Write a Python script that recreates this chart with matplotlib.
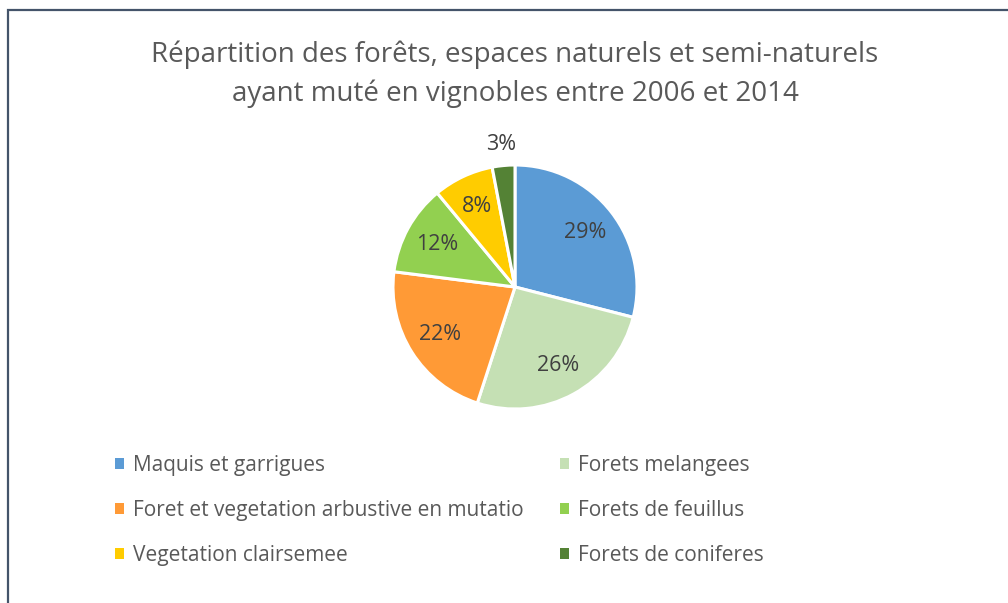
import matplotlib.pyplot as plt
from matplotlib.patches import Rectangle, Patch

# data
labels = ['Maquis et garrigues', 'Forets melangees',
          'Foret et vegetation arbustive en mutatio', 'Forets de feuillus',
          'Vegetation clairsemee', 'Forets de coniferes']
values = [29, 26, 22, 12, 8, 3]
colors = ['#5B9BD5', '#C5E0B4', '#FF9A36', '#92D050', '#FFCC00', '#548235']
title = 'Répartition des forêts, espaces naturels et semi-naturels\nayant muté en vignobles entre 2006 et 2014'

plt.rcParams['font.family'] = ['Open Sans', 'DejaVu Sans']
W, H = 1008, 603
fig = plt.figure(figsize=(W / 100, H / 100), dpi=100)

# chart frame (left and top edges visible, rest cut off)
fig.add_artist(Rectangle((8 / W, -0.2), 1.2, 1.2 - 9.5 / H, transform=fig.transFigure,
                         fill=False, edgecolor='#44546A', linewidth=1.6))

cx, cy, r = 515, 287, 122
ax = fig.add_axes([(cx - r) / W, (H - cy - r) / H, 2 * r / W, 2 * r / H])
wedges, texts, autotexts = ax.pie(values, colors=colors, startangle=90, counterclock=False,
                                  autopct='%1.0f%%', pctdistance=0.73,
                                  wedgeprops=dict(edgecolor='white', linewidth=2.2),
                                  textprops=dict(color='#404040', fontsize=15.5))
# small slice label sits outside
px, py = autotexts[-1].get_position()
autotexts[-1].set_position((px * 1.17 / 0.73, py * 1.17 / 0.73))
ax.set_xlim(-1, 1)
ax.set_ylim(-1, 1)
ax.set_aspect('equal')
ax.axis('off')

fig.text(cx / W, 1 - 74 / H, title, ha='center', va='center', fontsize=20,
         color='#595959', linespacing=1.49)

handles = [Patch(facecolor=c, edgecolor='none') for c in colors]
for col, x0 in enumerate([115, 560]):
    idx = [col, col + 2, col + 4]
    fig.legend([handles[i] for i in idx], [labels[i] for i in idx],
               loc='upper left', bbox_to_anchor=(x0 / W, 1 - 455 / H),
               frameon=False, fontsize=15, labelcolor='#595959',
               handlelength=0.43, handleheight=0.43, handletextpad=0.43,
               labelspacing=1.16, borderaxespad=0, borderpad=0)

fig.savefig('out.png', dpi=100)
